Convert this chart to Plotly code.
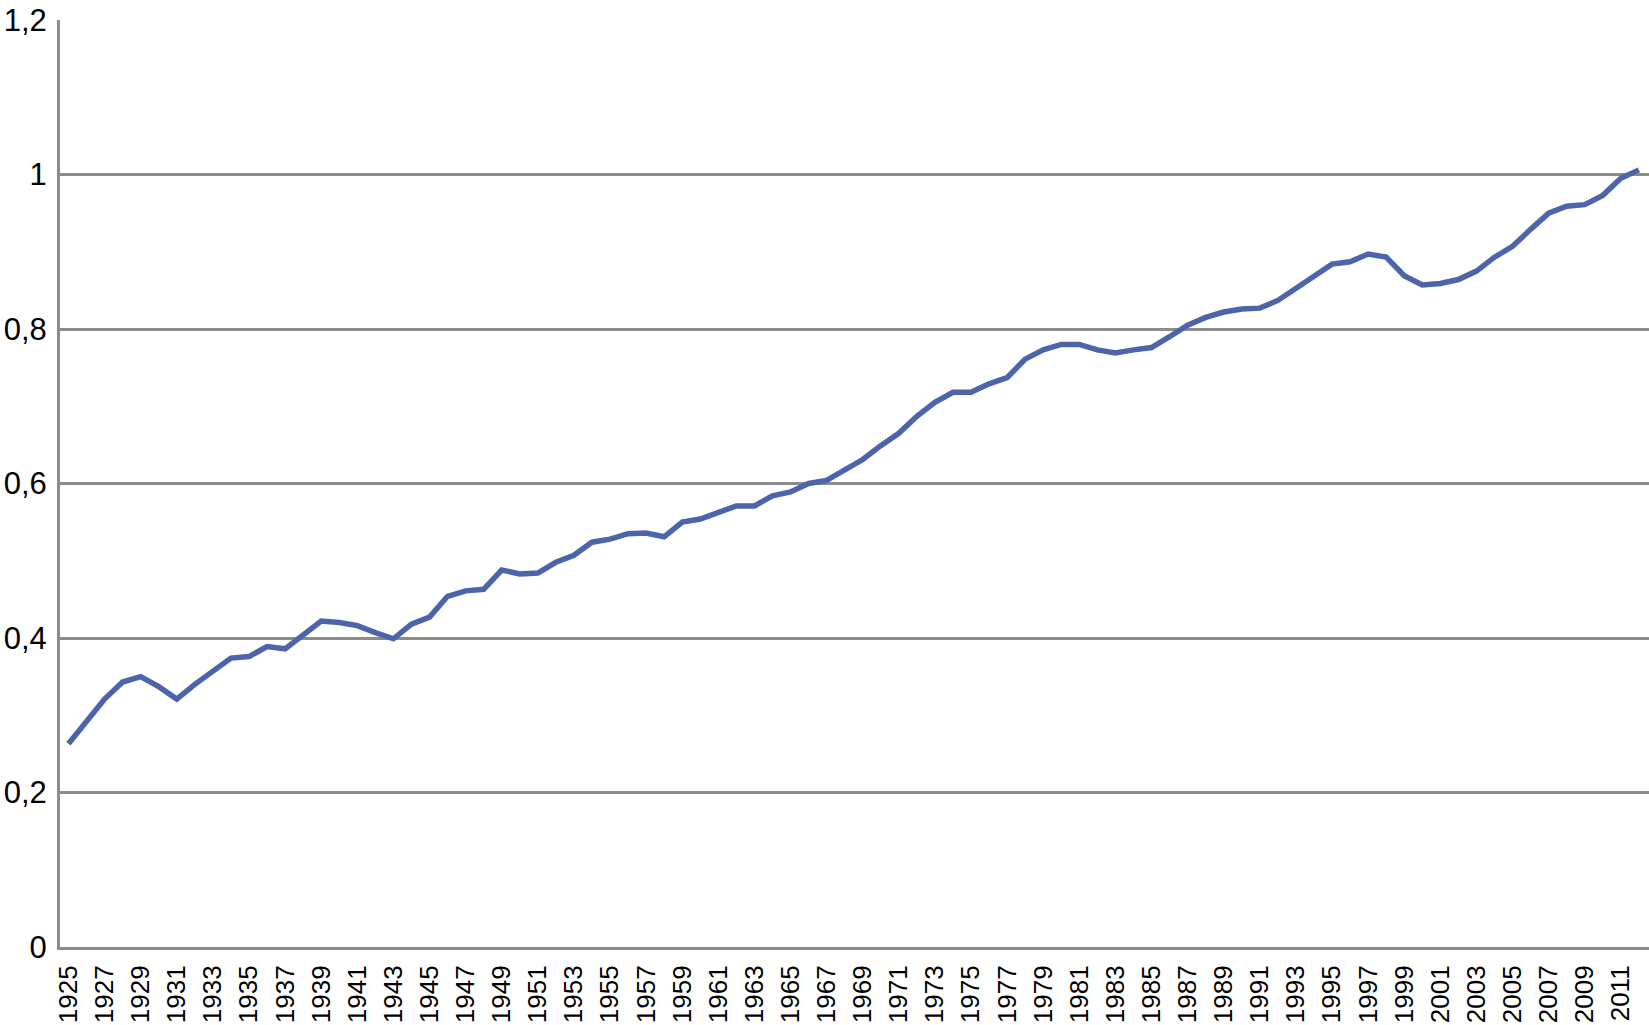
import plotly.graph_objects as go

years = list(range(1925, 2013))
values = [
    0.263, 0.291, 0.321, 0.343, 0.350, 0.337, 0.321, 0.340, 0.356, 0.374,
    0.376, 0.389, 0.386, 0.405, 0.422, 0.420, 0.416, 0.407, 0.399, 0.418,
    0.427, 0.454, 0.461, 0.463, 0.488, 0.483, 0.484, 0.498, 0.507, 0.524,
    0.528, 0.535, 0.536, 0.531, 0.550, 0.554, 0.563, 0.571, 0.571, 0.584,
    0.589, 0.600, 0.604, 0.618, 0.631, 0.649, 0.665, 0.687, 0.705, 0.718,
    0.718, 0.729, 0.737, 0.761, 0.773, 0.780, 0.780, 0.773, 0.769, 0.773,
    0.776, 0.790, 0.805, 0.815, 0.822, 0.826, 0.827, 0.837, 0.853, 0.869,
    0.884, 0.887, 0.897, 0.893, 0.869, 0.857, 0.859, 0.864, 0.875, 0.893,
    0.907, 0.929, 0.950, 0.959, 0.961, 0.973, 0.995, 1.006,
]
x_ticks = list(range(1925, 2013, 2))
x_tick_labels = [str(y) for y in x_ticks]
y_ticks = [0, 0.2, 0.4, 0.6, 0.8, 1.0, 1.2]
y_tick_labels = ["0", "0,2", "0,4", "0,6", "0,8", "1", "1,2"]

grid = "#8c8c8c"

fig = go.Figure()
fig.add_trace(go.Scatter(
    x=years, y=values, mode="lines",
    line=dict(color="#4c65aa", width=5.5),
    showlegend=False, hoverinfo="skip",
))

fig.update_layout(
    width=1649, height=1025,
    margin=dict(l=60, r=0, t=20, b=78, pad=0),
    paper_bgcolor="white", plot_bgcolor="white",
    font=dict(family="Liberation Sans, Arial, sans-serif", color="black"),
    xaxis=dict(
        range=[1924.53, 2012.56],
        tickmode="array", tickvals=x_ticks, ticktext=x_tick_labels,
        tickangle=-90, tickfont=dict(size=26),
        showgrid=False, zeroline=False,
        showline=True, linecolor=grid, linewidth=3,
        ticks="", ticklabelstandoff=5,
        automargin=False, fixedrange=True,
    ),
    yaxis=dict(
        range=[0, 1.2],
        tickmode="array", tickvals=y_ticks, ticktext=y_tick_labels,
        tickfont=dict(size=31),
        showgrid=True, gridcolor=grid, gridwidth=2.5,
        zeroline=False,
        showline=True, linecolor=grid, linewidth=3,
        ticks="", ticklabelstandoff=4,
        automargin=False, fixedrange=True,
    ),
)

fig.write_html(
    "out.html",
    config={"displayModeBar": False},
    post_script="document.body.style.margin='0';document.body.style.overflow='hidden';",
)
